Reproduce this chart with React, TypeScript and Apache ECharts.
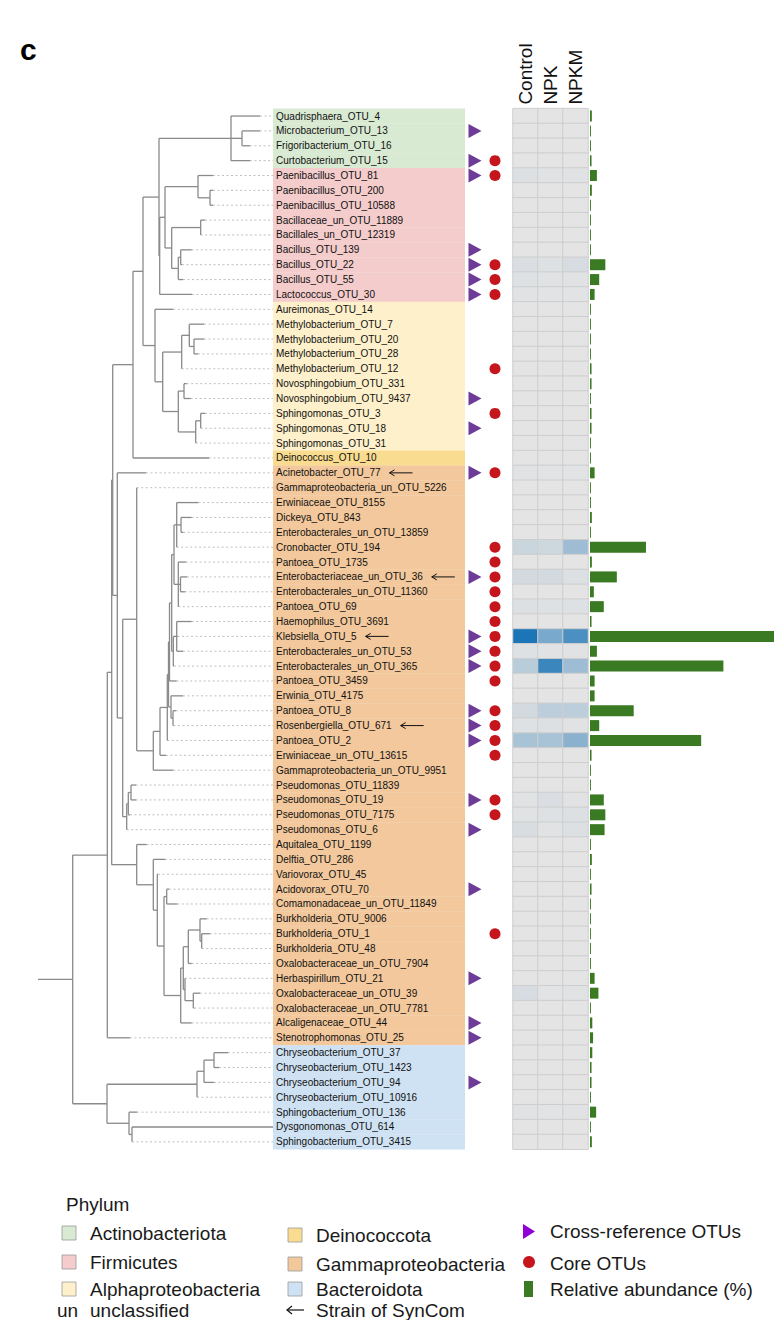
import React, { useEffect, useRef } from "react";
import * as echarts from "echarts";

const FONT = '"Liberation Sans", Arial, Helvetica, sans-serif';

const otuLabels = [
  "Quadrisphaera_OTU_4", "Microbacterium_OTU_13", "Frigoribacterium_OTU_16", "Curtobacterium_OTU_15",
  "Paenibacillus_OTU_81", "Paenibacillus_OTU_200", "Paenibacillus_OTU_10588", "Bacillaceae_un_OTU_11889",
  "Bacillales_un_OTU_12319", "Bacillus_OTU_139", "Bacillus_OTU_22", "Bacillus_OTU_55", "Lactococcus_OTU_30",
  "Aureimonas_OTU_14", "Methylobacterium_OTU_7", "Methylobacterium_OTU_20", "Methylobacterium_OTU_28",
  "Methylobacterium_OTU_12", "Novosphingobium_OTU_331", "Novosphingobium_OTU_9437", "Sphingomonas_OTU_3",
  "Sphingomonas_OTU_18", "Sphingomonas_OTU_31", "Deinococcus_OTU_10", "Acinetobacter_OTU_77",
  "Gammaproteobacteria_un_OTU_5226", "Erwiniaceae_OTU_8155", "Dickeya_OTU_843", "Enterobacterales_un_OTU_13859",
  "Cronobacter_OTU_194", "Pantoea_OTU_1735", "Enterobacteriaceae_un_OTU_36", "Enterobacterales_un_OTU_11360",
  "Pantoea_OTU_69", "Haemophilus_OTU_3691", "Klebsiella_OTU_5", "Enterobacterales_un_OTU_53",
  "Enterobacterales_un_OTU_365", "Pantoea_OTU_3459", "Erwinia_OTU_4175", "Pantoea_OTU_8",
  "Rosenbergiella_OTU_671", "Pantoea_OTU_2", "Erwiniaceae_un_OTU_13615", "Gammaproteobacteria_un_OTU_9951",
  "Pseudomonas_OTU_11839", "Pseudomonas_OTU_19", "Pseudomonas_OTU_7175", "Pseudomonas_OTU_6",
  "Aquitalea_OTU_1199", "Delftia_OTU_286", "Variovorax_OTU_45", "Acidovorax_OTU_70",
  "Comamonadaceae_un_OTU_11849", "Burkholderia_OTU_9006", "Burkholderia_OTU_1", "Burkholderia_OTU_48",
  "Oxalobacteraceae_un_OTU_7904", "Herbaspirillum_OTU_21", "Oxalobacteraceae_un_OTU_39",
  "Oxalobacteraceae_un_OTU_7781", "Alcaligenaceae_OTU_44", "Stenotrophomonas_OTU_25",
  "Chryseobacterium_OTU_37", "Chryseobacterium_OTU_1423", "Chryseobacterium_OTU_94",
  "Chryseobacterium_OTU_10916", "Sphingobacterium_OTU_136", "Dysgonomonas_OTU_614", "Sphingobacterium_OTU_3415",
];

const phylumNames = ["Actinobacteriota", "Firmicutes", "Alphaproteobacteria", "Deinococcota", "Gammaproteobacteria", "Bacteroidota"];
const phylumColors = ["#d9ead3", "#f4cccc", "#fdf0ca", "#f9dc90", "#f2c89c", "#cfe2f3"];
const phylumRowCounts = [4, 9, 10, 1, 39, 7];

const crossReferenceOTUs = [
  "Microbacterium_OTU_13", "Curtobacterium_OTU_15", "Paenibacillus_OTU_81", "Bacillus_OTU_139", "Bacillus_OTU_22",
  "Bacillus_OTU_55", "Lactococcus_OTU_30", "Novosphingobium_OTU_9437", "Sphingomonas_OTU_18", "Acinetobacter_OTU_77",
  "Enterobacteriaceae_un_OTU_36", "Klebsiella_OTU_5", "Enterobacterales_un_OTU_53", "Enterobacterales_un_OTU_365",
  "Pantoea_OTU_8", "Rosenbergiella_OTU_671", "Pantoea_OTU_2", "Pseudomonas_OTU_19", "Pseudomonas_OTU_6",
  "Acidovorax_OTU_70", "Herbaspirillum_OTU_21", "Alcaligenaceae_OTU_44", "Stenotrophomonas_OTU_25", "Chryseobacterium_OTU_94",
];

const coreOTUs = [
  "Curtobacterium_OTU_15", "Paenibacillus_OTU_81", "Bacillus_OTU_22", "Bacillus_OTU_55", "Lactococcus_OTU_30",
  "Methylobacterium_OTU_12", "Sphingomonas_OTU_3", "Acinetobacter_OTU_77", "Cronobacter_OTU_194", "Pantoea_OTU_1735",
  "Enterobacteriaceae_un_OTU_36", "Enterobacterales_un_OTU_11360", "Pantoea_OTU_69", "Haemophilus_OTU_3691",
  "Klebsiella_OTU_5", "Enterobacterales_un_OTU_53", "Enterobacterales_un_OTU_365", "Pantoea_OTU_3459", "Pantoea_OTU_8",
  "Rosenbergiella_OTU_671", "Pantoea_OTU_2", "Erwiniaceae_un_OTU_13615", "Pseudomonas_OTU_19", "Pseudomonas_OTU_7175",
  "Burkholderia_OTU_1",
];

const synComStrains = ["Acinetobacter_OTU_77", "Enterobacteriaceae_un_OTU_36", "Klebsiella_OTU_5", "Rosenbergiella_OTU_671"];

const treatments = ["Control", "NPK", "NPKM"];

const heatControl = [
  0, 0, 0, 0, 0.35, 0, 0, 0, 0, 0,
  0.5, 0.3, 0.15, 0, 0, 0, 0, 0, 0, 0,
  0, 0, 0, 0, 0.2, 0, 0, 0, 0, 1.3,
  0, 0.9, 0, 0.4, 0, 10, 0.3, 2.2, 0, 0,
  0.9, 0.3, 3.0, 0, 0, 0, 0.2, 0.2, 0.6, 0,
  0, 0, 0, 0, 0, 0, 0, 0, 0, 0.7,
  0, 0, 0, 0, 0, 0, 0, 0.2, 0, 0,
];
const heatNPK = [
  0, 0, 0, 0, 0.2, 0, 0, 0, 0, 0,
  0.3, 0.2, 0.1, 0, 0, 0, 0, 0, 0, 0,
  0, 0, 0, 0, 0.1, 0, 0, 0, 0, 1.2,
  0, 0.9, 0, 0.3, 0, 5.3, 0.2, 8.4, 0, 0,
  2.0, 0.4, 3.0, 0, 0, 0, 0.5, 0.3, 0.2, 0,
  0, 0, 0, 0, 0, 0, 0, 0, 0, 0.1,
  0, 0, 0, 0, 0, 0, 0, 0.1, 0, 0,
];
const heatNPKM = [
  0, 0, 0, 0, 0.15, 0, 0, 0, 0, 0,
  0.7, 0.2, 0.1, 0, 0, 0, 0, 0, 0, 0,
  0, 0, 0, 0, 0.1, 0, 0, 0, 0, 3.5,
  0, 0.4, 0, 0.3, 0, 7.6, 0.2, 3.5, 0, 0,
  2.0, 0.2, 4.5, 0, 0, 0, 0.2, 0.4, 0.4, 0,
  0, 0, 0, 0, 0, 0, 0, 0, 0, 0.2,
  0, 0, 0, 0, 0, 0, 0, 0.2, 0, 0,
];

const relativeAbundance = [
  0.12, 0.06, 0.06, 0.1, 0.45, 0.12, 0.06, 0.06, 0.06, 0.06,
  1.0, 0.6, 0.3, 0.06, 0.06, 0.06, 0.06, 0.1, 0.1, 0.06,
  0.1, 0.1, 0.06, 0.06, 0.3, 0.06, 0.06, 0.12, 0.06, 3.65,
  0.12, 1.75, 0.25, 0.9, 0.1, 14, 0.45, 8.7, 0.3, 0.3,
  2.85, 0.6, 7.25, 0.1, 0.06, 0.06, 0.9, 1.0, 0.95, 0.06,
  0.12, 0.06, 0.1, 0.06, 0.06, 0.06, 0.06, 0.06, 0.3, 0.55,
  0.06, 0.15, 0.2, 0.15, 0.1, 0.1, 0.06, 0.4, 0.06, 0.12,
];

// Phylogenetic tree: node(depth, ...children), tip(name, depth) — depth = cumulative branch length from root stem
type TreeNode = { d: number; name?: string; kids?: TreeNode[] };
const tip = (name: string, d: number): TreeNode => ({ name, d });
const node = (d: number, ...kids: TreeNode[]): TreeNode => ({ d, kids });
const TREE_MAX = 235;

const tree = node(34.7,
  node(69.3,
    node(73.7,
      node(74.7,
        node(95,
          node(105,
            node(121,
              node(193, tip("Quadrisphaera_OTU_4", 222), node(204, tip("Microbacterium_OTU_13", 222), tip("Frigoribacterium_OTU_16", 212)), tip("Curtobacterium_OTU_15", 212)),
              node(121.7,
                node(127,
                  node(160, tip("Paenibacillus_OTU_81", 175), node(172, tip("Paenibacillus_OTU_200", 175), tip("Paenibacillus_OTU_10588", 175))),
                  node(133.7,
                    node(162.7, tip("Bacillaceae_un_OTU_11889", 167), tip("Bacillales_un_OTU_12319", 162.7)),
                    node(140.3, node(142.7, tip("Bacillus_OTU_139", 153.7), tip("Bacillus_OTU_22", 144)), tip("Bacillus_OTU_55", 145)))),
                tip("Lactococcus_OTU_30", 154))),
            node(117,
              tip("Aureimonas_OTU_14", 135.3),
              node(124.7,
                node(143.7,
                  node(151.3, tip("Methylobacterium_OTU_7", 166), node(156, tip("Methylobacterium_OTU_20", 166), tip("Methylobacterium_OTU_28", 160))),
                  tip("Methylobacterium_OTU_12", 143.7)),
                node(140.3,
                  node(146, tip("Novosphingobium_OTU_331", 148.7), tip("Novosphingobium_OTU_9437", 152.7)),
                  node(157.7, node(162.7, tip("Sphingomonas_OTU_3", 167), tip("Sphingomonas_OTU_18", 162.7)), tip("Sphingomonas_OTU_31", 157.7)))))),
          tip("Deinococcus_OTU_10", 171)),
        node(79.3,
          tip("Acinetobacter_OTU_77", 108),
          node(84.7,
            node(98.7,
              tip("Gammaproteobacteria_un_OTU_5226", 98.7),
              node(115.3,
                node(122,
                  node(129.3,
                    node(130.5,
                      node(131.5,
                        node(133.7,
                          node(136,
                            node(138.7, tip("Erwiniaceae_OTU_8155", 160.3), node(143, tip("Dickeya_OTU_843", 153.7), tip("Enterobacterales_un_OTU_13859", 145.3)), tip("Cronobacter_OTU_194", 138.7)),
                            node(140.3, tip("Pantoea_OTU_1735", 148), node(142.5, tip("Enterobacteriaceae_un_OTU_36", 149), tip("Enterobacterales_un_OTU_11360", 147)), tip("Pantoea_OTU_69", 140.3))),
                          node(135.3,
                            node(138.7, tip("Haemophilus_OTU_3691", 153.7), tip("Klebsiella_OTU_5", 139.5), tip("Enterobacterales_un_OTU_53", 145)),
                            tip("Enterobacterales_un_OTU_365", 136))),
                        tip("Pantoea_OTU_3459", 138.7)),
                      node(133, tip("Erwinia_OTU_4175", 145), node(135, tip("Pantoea_OTU_8", 138), tip("Rosenbergiella_OTU_671", 135.5)))),
                    tip("Pantoea_OTU_2", 129.3)),
                  tip("Erwiniaceae_un_OTU_13615", 128)),
                tip("Gammaproteobacteria_un_OTU_9951", 135.3))),
            node(88.7,
              node(90.3, node(93, tip("Pseudomonas_OTU_11839", 98), tip("Pseudomonas_OTU_19", 98)), tip("Pseudomonas_OTU_7175", 92)),
              tip("Pseudomonas_OTU_6", 88.7))))),
      node(98.7,
        tip("Aquitalea_OTU_1199", 108.7),
        node(115.3,
          tip("Delftia_OTU_286", 127),
          node(119.3,
            tip("Variovorax_OTU_45", 120),
            node(126,
              node(128.7, tip("Acidovorax_OTU_70", 131), tip("Comamonadaceae_un_OTU_11849", 139.3)),
              node(142.7,
                node(145.3,
                  node(150.3,
                    node(162, tip("Burkholderia_OTU_9006", 168.7), node(163.7, tip("Burkholderia_OTU_1", 172), tip("Burkholderia_OTU_48", 163.7))),
                    tip("Oxalobacteraceae_un_OTU_7904", 153.7)),
                  node(147, tip("Herbaspirillum_OTU_21", 147), node(155.3, tip("Oxalobacteraceae_un_OTU_39", 162), tip("Oxalobacteraceae_un_OTU_7781", 156.3)))),
                tip("Alcaligenaceae_OTU_44", 153.7))))))),
    tip("Stenotrophomonas_OTU_25", 92)),
  node(69,
    node(159,
      node(166, node(176, tip("Chryseobacterium_OTU_37", 190), tip("Chryseobacterium_OTU_1423", 181)), tip("Chryseobacterium_OTU_94", 176)),
      tip("Chryseobacterium_OTU_10916", 159)),
    node(91, tip("Sphingobacterium_OTU_136", 99), node(94, tip("Dysgonomonas_OTU_614", 235), tip("Sphingobacterium_OTU_3415", 94)))));

// ---- derived structures ----
const rowOf = new Map<string, number>(otuLabels.map((n, i) => [n, i]));
const rowPhylum: number[] = [];
phylumRowCounts.forEach((c, k) => { for (let j = 0; j < c; j++) rowPhylum.push(k); });

type Seg = [number, number, number, number, number];
function layoutTree(t: TreeNode, segs: Seg[]): number {
  if (t.name) {
    const y = rowOf.get(t.name)!;
    if (t.d < TREE_MAX) segs.push([t.d, y, TREE_MAX, y, 1]);
    return y;
  }
  const ys = t.kids!.map((k) => {
    const y = layoutTree(k, segs);
    segs.push([t.d, y, k.d, y, 0]);
    return y;
  });
  const y0 = ys[0], y1 = ys[ys.length - 1];
  segs.push([t.d, y0, t.d, y1, 0]);
  return (y0 + y1) / 2;
}
const treeSegs: Seg[] = [];
const rootY = layoutTree(tree, treeSegs);
treeSegs.push([0, rootY, tree.d, rootY, 0]);

let measureCtx: CanvasRenderingContext2D | null = null;
function measure(text: string, font: string): number {
  if (!measureCtx) measureCtx = document.createElement("canvas").getContext("2d");
  if (!measureCtx) return text.length * 5.4;
  measureCtx.font = font;
  return measureCtx.measureText(text).width;
}

const ROW_TOP = 108.6;
const ROW_H = 1040.7;
const N = otuLabels.length;
const HEAT_LEFT = 513;
const HEAT_W = 75;

export default function App() {
  const ref = useRef<HTMLDivElement>(null);
  useEffect(() => {
    if (!ref.current) return;
    const chart = echarts.init(ref.current, undefined, { renderer: "svg" });

    const heatData: number[][] = [];
    const heatCols = [heatControl, heatNPK, heatNPKM];
    for (let r = 0; r < N; r++) for (let c = 0; c < 3; c++) heatData.push([c, r, heatCols[c][r]]);

    const gridBase = { top: ROW_TOP, height: ROW_H, outerBoundsMode: "none", containLabel: false };
    const rowValueAxis = (gi: number) => ({ type: "value", gridIndex: gi, min: -0.5, max: N - 0.5, inverse: true, show: false });
    const rowCatAxis = (gi: number) => ({ type: "category", gridIndex: gi, data: otuLabels, inverse: true, show: false });

    const legendItems: any[] = [];
    const txt = (x: number, y: number, text: string, size = 19, extra: any = {}) => ({
      type: "text",
      silent: true,
      style: { x, y, text, fill: "#1a1a1a", fontSize: size, fontFamily: FONT, align: "left", verticalAlign: "middle", textAlign: "left", textVerticalAlign: "middle", ...extra },
    });
    legendItems.push(txt(20, 49, "c", 30, { fontWeight: "bold", fill: "#000" }));

    // column headers, rotated to read bottom-to-top above each heatmap column
    const colW = HEAT_W / treatments.length;
    treatments.forEach((t, c) => {
      legendItems.push({
        type: "text",
        silent: true,
        x: HEAT_LEFT + colW * (c + 0.5),
        y: ROW_TOP - 4,
        rotation: Math.PI / 2,
        style: { x: 0, y: 0, text: t, fill: "#111", fontSize: 19, fontFamily: FONT, align: "left", verticalAlign: "middle", textAlign: "left", textVerticalAlign: "middle" },
      });
    });

    legendItems.push(txt(66, 1204, "Phylum", 19));
    const rowYs = [[1233, 1262, 1289], [1235, 1264, 1289]];
    phylumNames.forEach((name, k) => {
      const col = k < 3 ? 0 : 1;
      const row = k % 3;
      const sx = col ? 288 : 62;
      const cy = rowYs[col][row];
      legendItems.push({ type: "rect", silent: true, shape: { x: sx, y: cy - 7, width: 14, height: 14 }, style: { fill: phylumColors[k], stroke: "#9a9a9a", lineWidth: 0.8 } });
      legendItems.push(txt(col ? 316 : 90, cy, name));
    });
    legendItems.push({ type: "polygon", silent: true, shape: { points: [[523, 1224], [523, 1239], [535, 1231.5]] }, style: { fill: "#8e00d4" } });
    legendItems.push(txt(550, 1231, "Cross-reference OTUs"));
    legendItems.push({ type: "circle", silent: true, shape: { cx: 529, cy: 1262, r: 6 }, style: { fill: "#c8141c" } });
    legendItems.push(txt(550, 1263, "Core OTUs"));
    legendItems.push({ type: "rect", silent: true, shape: { x: 524, y: 1281, width: 9, height: 16 }, style: { fill: "#3a7a22" } });
    legendItems.push(txt(550, 1289, "Relative abundance (%)"));
    const lastY = 1310;
    legendItems.push(txt(57, lastY, "un"));
    legendItems.push(txt(90, lastY, "unclassified"));
    legendItems.push({ type: "line", silent: true, shape: { x1: 287, y1: lastY, x2: 304, y2: lastY }, style: { stroke: "#111", lineWidth: 1.2 } });
    legendItems.push({ type: "polyline", silent: true, shape: { points: [[292, lastY - 4], [287, lastY], [292, lastY + 4]] }, style: { stroke: "#111", lineWidth: 1.2, fill: "none" } });
    legendItems.push(txt(316, lastY, "Strain of SynCom"));

    const labelFont = `10px ${FONT}`;

    const option: any = {
      animation: false,
      backgroundColor: "#ffffff",
      grid: [
        { ...gridBase, left: 38, width: 235 },
        { ...gridBase, left: 273, width: 192 },
        { ...gridBase, left: 465, width: 40 },
        { ...gridBase, left: HEAT_LEFT, width: HEAT_W },
        { ...gridBase, left: 590, width: 184 },
      ],
      xAxis: [
        { type: "value", gridIndex: 0, min: 0, max: TREE_MAX, show: false },
        { type: "value", gridIndex: 1, min: 0, max: 1, show: false },
        { type: "category", gridIndex: 2, data: ["cross", "core"], show: false },
        { type: "category", gridIndex: 3, data: treatments, show: false },
        { type: "value", gridIndex: 4, min: 0, max: 12, show: false },
      ],
      yAxis: [rowValueAxis(0), rowValueAxis(1), rowValueAxis(2), rowCatAxis(3), rowCatAxis(4)],
      visualMap: [{
        type: "continuous", show: false, seriesIndex: 4, dimension: 2, min: 0, max: 10,
        inRange: { color: ["#e4e4e4", "#1b75b6"] },
      }],
      series: [
        {
          type: "custom", xAxisIndex: 0, yAxisIndex: 0, silent: true,
          data: treeSegs, encode: { x: [0, 2], y: [1, 3] },
          renderItem: (_p: any, api: any) => {
            const p1 = api.coord([api.value(0), api.value(1)]);
            const p2 = api.coord([api.value(2), api.value(3)]);
            const dotted = api.value(4) === 1;
            return {
              type: "line",
              shape: { x1: p1[0], y1: p1[1], x2: p2[0], y2: p2[1] },
              style: dotted
                ? { stroke: "#b8b8b8", lineWidth: 0.9, lineDash: [2, 2.5] }
                : { stroke: "#8a8a8a", lineWidth: 1.3 },
            };
          },
        },
        {
          type: "custom", xAxisIndex: 1, yAxisIndex: 1, silent: true,
          data: otuLabels.map((_, i) => [0.5, i]), encode: { x: 0, y: 1 },
          renderItem: (params: any, api: any) => {
            const i = params.dataIndex;
            const a = api.coord([0, i - 0.5]);
            const b = api.coord([1, i + 0.5]);
            const top = Math.min(a[1], b[1]);
            const h = Math.abs(b[1] - a[1]);
            const cy = top + h / 2;
            const children: any[] = [
              { type: "rect", shape: { x: a[0], y: top, width: b[0] - a[0], height: h + 0.3 }, style: { fill: phylumColors[rowPhylum[i]] } },
              {
                type: "text",
                style: { x: a[0] + 3, y: cy, text: otuLabels[i], fill: "#111", fontSize: 10, fontFamily: FONT, align: "left", verticalAlign: "middle" },
              },
            ];
            if (synComStrains.includes(otuLabels[i])) {
              const x0 = a[0] + 3 + measure(otuLabels[i], labelFont) + 9;
              children.push({ type: "line", shape: { x1: x0, y1: cy, x2: x0 + 23, y2: cy }, style: { stroke: "#111", lineWidth: 1 } });
              children.push({ type: "polyline", shape: { points: [[x0 + 5, cy - 3], [x0, cy], [x0 + 5, cy + 3]] }, style: { stroke: "#111", lineWidth: 1, fill: "none" } });
            }
            return { type: "group", children };
          },
        },
        {
          type: "scatter", xAxisIndex: 2, yAxisIndex: 2, silent: true,
          data: crossReferenceOTUs.map((n) => [0, rowOf.get(n)!]),
          symbol: "triangle", symbolRotate: -90, symbolSize: [14, 13],
          itemStyle: { color: "#6e3b98", opacity: 1 },
        },
        {
          type: "scatter", xAxisIndex: 2, yAxisIndex: 2, silent: true,
          data: coreOTUs.map((n) => [1, rowOf.get(n)!]),
          symbol: "circle", symbolSize: 11,
          itemStyle: { color: "#c5161d", opacity: 1 },
        },
        {
          type: "heatmap", xAxisIndex: 3, yAxisIndex: 3, silent: true,
          data: heatData,
          itemStyle: { borderColor: "#cecece", borderWidth: 1 },
        },
        {
          type: "bar", xAxisIndex: 4, yAxisIndex: 4, silent: true,
          data: relativeAbundance, barWidth: "74%", clip: true,
          itemStyle: { color: "#3a7a22" },
        },
      ],
      graphic: legendItems,
    };
    chart.setOption(option);
    return () => chart.dispose();
  }, []);

  return <div ref={ref} style={{ position: "absolute", left: 0, top: 0, width: 774, height: 1320 }} />;
}
